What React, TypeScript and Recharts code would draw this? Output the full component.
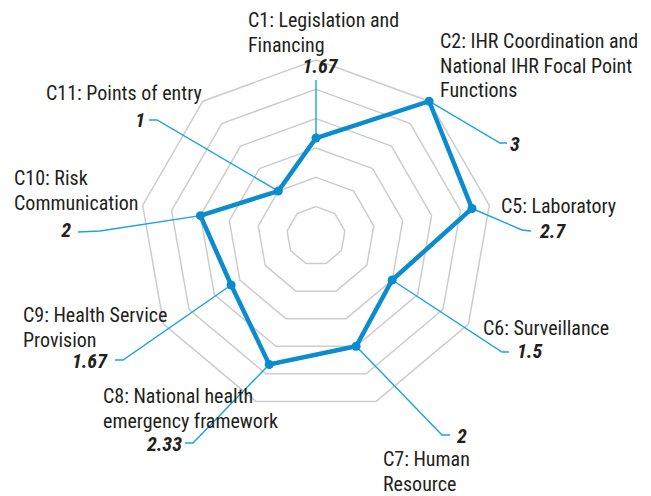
import React from 'react';
import { RadarChart, Radar, PolarGrid, PolarAngleAxis, PolarRadiusAxis } from 'recharts';

const categories = [
  'C1: Legislation and Financing',
  'C2: IHR Coordination and National IHR Focal Point Functions',
  'C5: Laboratory',
  'C6: Surveillance',
  'C7: Human Resource',
  'C8: National health emergency framework',
  'C9: Health Service Provision',
  'C10: Risk Communication',
  'C11: Points of entry',
];
const scores = [1.67, 3, 2.7, 1.5, 2, 2.33, 1.67, 2, 1];
const scoreLabels = ['1.67', '3', '2.7', '1.5', '2', '2.33', '1.67', '2', '1'];
const radiusTicks = [0, 0.5, 1, 1.5, 2, 2.5, 3];
const labelLines = [
  ['C1: Legislation and', 'Financing'],
  ['C2: IHR Coordination and', 'National IHR Focal Point', 'Functions'],
  ['C5: Laboratory'],
  ['C6: Surveillance'],
  ['C7: Human', 'Resource'],
  ['C8: National health', 'emergency framework'],
  ['C9: Health Service', 'Provision'],
  ['C10: Risk', 'Communication'],
  ['C11: Points of entry'],
];

const data = categories.map((name, i) => ({ name, score: scores[i] }));

// annotation layout: leader path points, value label spot, category label spot
type Note = { path: [number, number][]; vx: number; vy: number; anchor: 'start' | 'middle' | 'end'; lx: number; ly: number };
const notes: Note[] = [
  { path: [[316, 80]], vx: 320, vy: 73, anchor: 'middle', lx: 248, ly: 27 },
  { path: [[500, 143], [507, 143]], vx: 510, vy: 151, anchor: 'start', lx: 440, ly: 48 },
  { path: [[522, 230], [531, 231]], vx: 540, vy: 238, anchor: 'start', lx: 501, ly: 213 },
  { path: [[502, 352], [509, 352]], vx: 517, vy: 358, anchor: 'start', lx: 483, ly: 335 },
  { path: [[442, 435], [450, 435]], vx: 457, vy: 443, anchor: 'start', lx: 383, ly: 466 },
  { path: [[193, 443], [185, 443]], vx: 182, vy: 451, anchor: 'end', lx: 103, ly: 403 },
  { path: [[123, 360], [115, 360]], vx: 107, vy: 368, anchor: 'end', lx: 23, ly: 322 },
  { path: [[100, 231], [78, 232]], vx: 71, vy: 237, anchor: 'end', lx: 14, ly: 185 },
  { path: [[157, 120], [149, 120]], vx: 145, vy: 127, anchor: 'end', lx: 46, ly: 100 },
];

const FONT = "'Liberation Sans Narrow', 'Roboto Condensed', Roboto, sans-serif";
const LINE = '#0b8ccf';
const LEADER = '#1ba2e2';
const TEXT = '#231f20';

const renderDot = (props: any) => {
  const { cx, cy, index } = props;
  const n = notes[index];
  const pts = [[cx, cy], ...n.path].map((p) => p.join(',')).join(' ');
  return (
    <g key={`dot-${index}`}>
      <polyline points={pts} fill="none" stroke={LEADER} strokeWidth={1.4} />
      <circle cx={cx} cy={cy} r={4.5} fill={LINE} />
      <text x={n.vx} y={n.vy} textAnchor={n.anchor} fontFamily={FONT} fontSize={20} fontWeight="bold" fontStyle="italic" fill={TEXT}>
        {scoreLabels[index]}
      </text>
      <text x={n.lx} y={n.ly} fontFamily={FONT} fontSize={20} fill={TEXT}>
        {labelLines[index].map((line, j) => (
          <tspan key={j} x={n.lx} dy={j === 0 ? 0 : 24.5}>
            {line}
          </tspan>
        ))}
      </text>
    </g>
  );
};

export default function App() {
  return (
    <div style={{ position: 'absolute', left: 0, top: 0, width: 651, height: 496, background: '#fff' }}>
      <RadarChart
        width={651}
        height={496}
        data={data}
        cx={316}
        cy={236}
        outerRadius={176}
        margin={{ top: 0, right: 0, bottom: 0, left: 0 }}
      >
        <PolarGrid gridType="polygon" radialLines={false} stroke="#cdcdcd" strokeWidth={1.5} />
        <PolarAngleAxis dataKey="name" tick={false} axisLine={false} tickLine={false} />
        <PolarRadiusAxis domain={[0, 3]} ticks={radiusTicks as any} tickCount={7} tick={false} axisLine={false} />
        <Radar
          dataKey="score"
          stroke={LINE}
          strokeWidth={4.5}
          fill="none"
          fillOpacity={0}
          dot={renderDot}
          isAnimationActive={false}
        />
      </RadarChart>
    </div>
  );
}
